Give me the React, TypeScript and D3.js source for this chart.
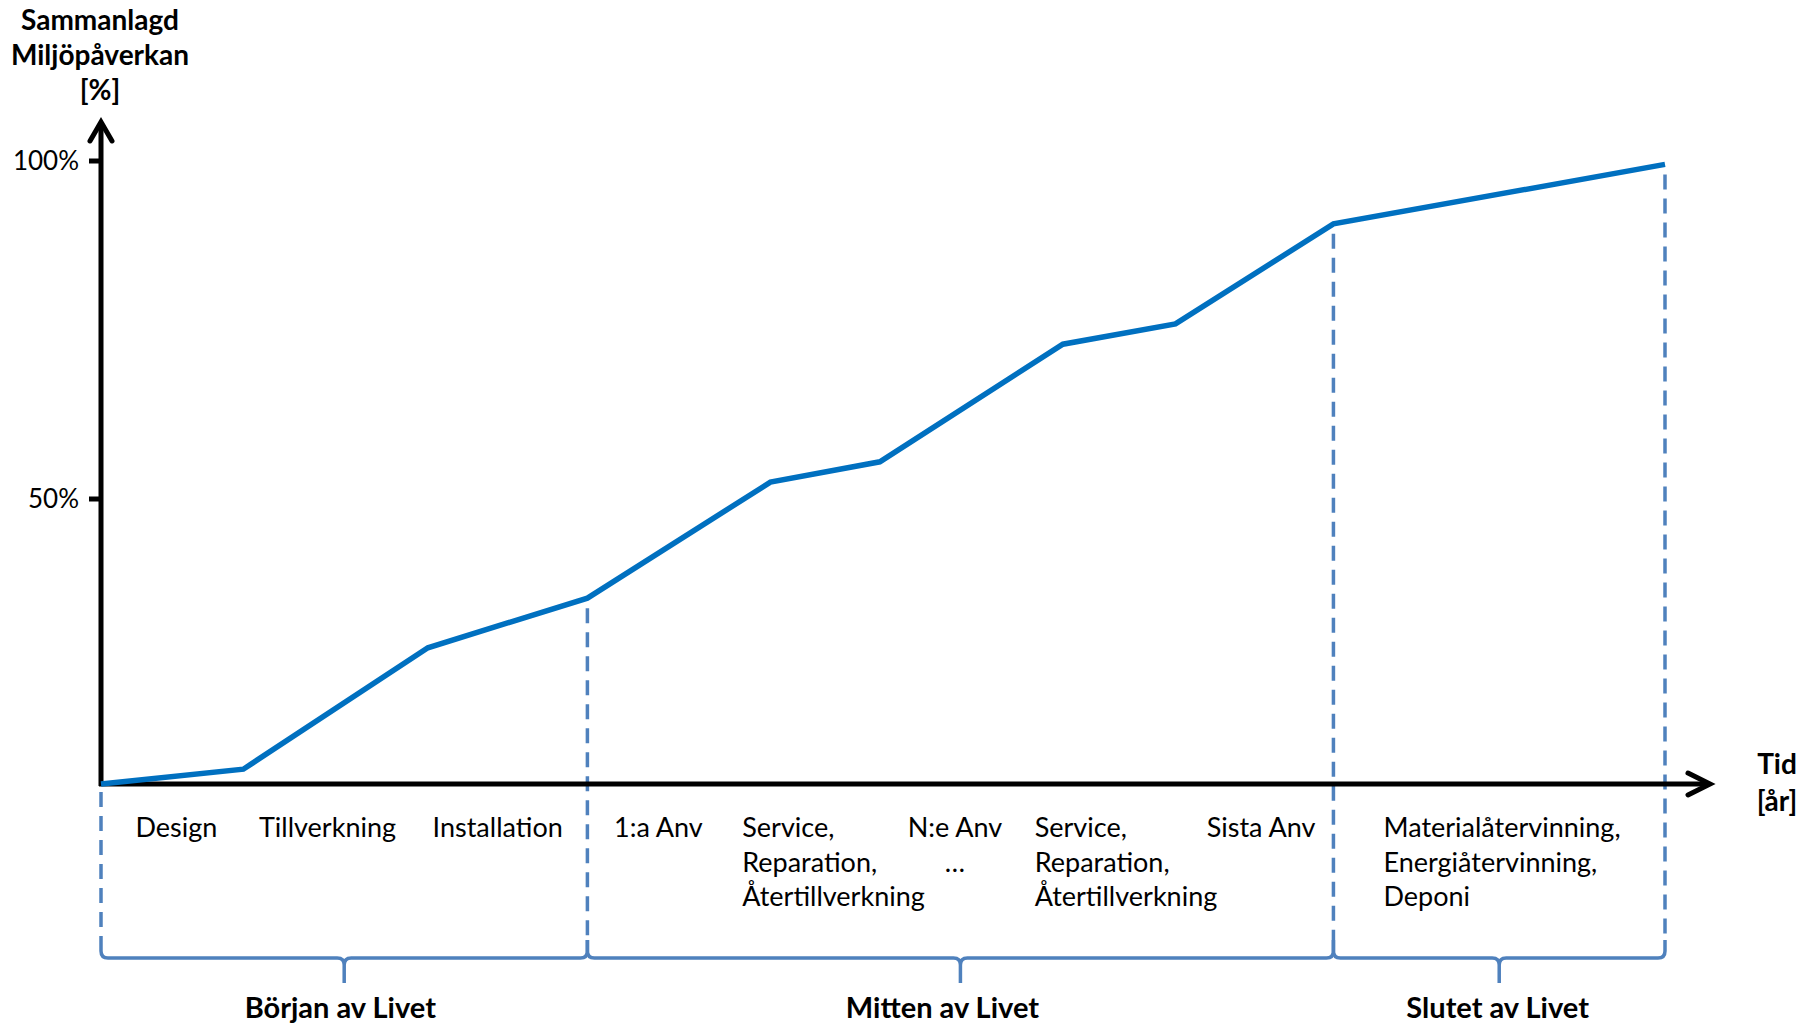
import React from 'react';
import * as d3 from 'd3';

// Cumulative environmental impact across the product life (schematic)
const time = [0, 9.1, 20.9, 31.1, 42.8, 49.8, 61.5, 68.7, 78.8, 100];
const impact = [0, 2.6, 23.9, 32.6, 52.5, 55.5, 72.9, 75.9, 90.7, 99.5];

const yTicks = [50, 100];

// phase spans on the time axis, plus where each name sits
const phases = [
  { name: 'Början av Livet', start: 0, end: 31.1, labelAt: 15.3 },
  { name: 'Mitten av Livet', start: 31.1, end: 78.8, labelAt: 53.8 },
  { name: 'Slutet av Livet', start: 78.8, end: 100, labelAt: 89.3 },
];

const stages = [
  { lines: ['Design'], t: 2.2, anchor: 'start' },
  { lines: ['Tillverkning'], t: 10.1, anchor: 'start' },
  { lines: ['Installation'], t: 21.2, anchor: 'start' },
  { lines: ['1:a Anv'], t: 32.8, anchor: 'start' },
  { lines: ['Service,', 'Reparation,', 'Återtillverkning'], t: 41.0, anchor: 'start' },
  { lines: ['N:e Anv', '…'], t: 54.6, anchor: 'middle' },
  { lines: ['Service,', 'Reparation,', 'Återtillverkning'], t: 59.7, anchor: 'start' },
  { lines: ['Sista Anv'], t: 70.7, anchor: 'start' },
  { lines: ['Materialåtervinning,', 'Energiåtervinning,', 'Deponi'], t: 82.0, anchor: 'start' },
];

const W = 1808;
const H = 1026;
const FONT = 'Lato, "Open Sans", sans-serif';
const LINE_BLUE = '#0070C0';
const BRACE_BLUE = '#4F81BD';

const App: React.FC = () => {
  const x = d3.scaleLinear().domain([0, 100]).range([101, 1665]);
  // axis is schematic: 0 sits on the time axis, ticks at 50% and 100%
  const y = d3.scaleLinear().domain([0, 50, 100]).range([784, 499, 161]);

  const pts = time.map((t, i) => [t, impact[i]] as [number, number]);
  const line = d3.line<[number, number]>()
    .x((d) => x(d[0]))
    .y((d) => y(d[1]));

  const x0 = x(0);
  const y0 = y(0);
  const braceY = 958;
  const braceTop = 940;

  const valueAt = (t: number) => {
    const i = time.indexOf(t);
    return i >= 0 ? impact[i] : 0;
  };

  const bracePath = (a: number, b: number) => {
    const m = (a + b) / 2;
    const r = 7;
    return [
      `M${a},${braceTop}`,
      `L${a},${braceY - r}`,
      `Q${a},${braceY} ${a + r},${braceY}`,
      `L${m - r},${braceY}`,
      `Q${m},${braceY} ${m},${braceY + r}`,
      `L${m},${braceY + 25}`,
      `M${m},${braceY + r}`,
      `Q${m},${braceY} ${m + r},${braceY}`,
      `L${b - r},${braceY}`,
      `Q${b},${braceY} ${b},${braceY - r}`,
      `L${b},${braceTop}`,
    ].join(' ');
  };

  const boundaries = [0, 31.1, 78.8, 100];

  return (
    <div style={{ position: 'fixed', left: 0, top: 0 }}>
      <svg width={W} height={H} viewBox={`0 0 ${W} ${H}`} style={{ display: 'block', background: '#fff' }}>
        {/* dashed phase boundaries */}
        {boundaries.map((t) => (
          <line
            key={`b${t}`}
            x1={x(t)}
            x2={x(t)}
            y1={t === 0 ? y0 + 8 : y(valueAt(t)) + 10}
            y2={braceTop}
            stroke={BRACE_BLUE}
            strokeWidth={3.5}
            strokeDasharray="15 9"
          />
        ))}

        {/* braces */}
        {phases.map((p) => (
          <g key={p.name}>
            <path d={bracePath(x(p.start), x(p.end))} fill="none" stroke={BRACE_BLUE} strokeWidth={3.5} />
            <text
              x={x(p.labelAt)}
              y={1018}
              textAnchor="middle"
              fontFamily={FONT}
              fontWeight="bold"
              fontSize={29}
              fill="#000"
            >
              {p.name}
            </text>
          </g>
        ))}

        {/* axes */}
        <line x1={x0} x2={x0} y1={y0 + 2} y2={122} stroke="#000" strokeWidth={5} />
        <path d={`M${x0 - 11},${141} L${x0},${122} L${x0 + 11},${141}`} fill="none" stroke="#000" strokeWidth={5} strokeLinecap="round" />
        <line x1={x0 - 2} x2={1709} y1={y0} y2={y0} stroke="#000" strokeWidth={5} />
        <path d={`M${1688},${y0 - 11} L${1710},${y0} L${1688},${y0 + 11}`} fill="none" stroke="#000" strokeWidth={5} strokeLinecap="round" />

        {yTicks.map((v) => (
          <g key={v}>
            <line x1={x0 - 12} x2={x0} y1={y(v)} y2={y(v)} stroke="#000" strokeWidth={5} />
            <text x={79} y={y(v)} dy="0.36em" textAnchor="end" fontFamily={FONT} fontSize={26} fill="#000">
              {`${v}%`}
            </text>
          </g>
        ))}

        {/* cumulative impact line */}
        <path d={line(pts) ?? ''} fill="none" stroke={LINE_BLUE} strokeWidth={5.5} strokeLinejoin="miter" />

        {/* stage labels */}
        {stages.map((s, i) => (
          <text key={i} x={x(s.t)} y={837} textAnchor={s.anchor} fontFamily={FONT} fontSize={27} fill="#000">
            {s.lines.map((l, j) => (
              <tspan key={j} x={x(s.t)} dy={j === 0 ? 0 : 34.6}>{l}</tspan>
            ))}
          </text>
        ))}

        {/* axis titles */}
        <text x={100} y={30} textAnchor="middle" fontFamily={FONT} fontWeight="bold" fontSize={28} fill="#000">
          <tspan x={100} dy={0}>Sammanlagd</tspan>
          <tspan x={100} dy={35}>Miljöpåverkan</tspan>
          <tspan x={100} dy={35}>[%]</tspan>
        </text>
        <text x={1777} y={774} textAnchor="middle" fontFamily={FONT} fontWeight="bold" fontSize={28} fill="#000">
          <tspan x={1777} dy={0}>Tid</tspan>
          <tspan x={1777} dy={37}>[år]</tspan>
        </text>
      </svg>
    </div>
  );
};

export default App;
